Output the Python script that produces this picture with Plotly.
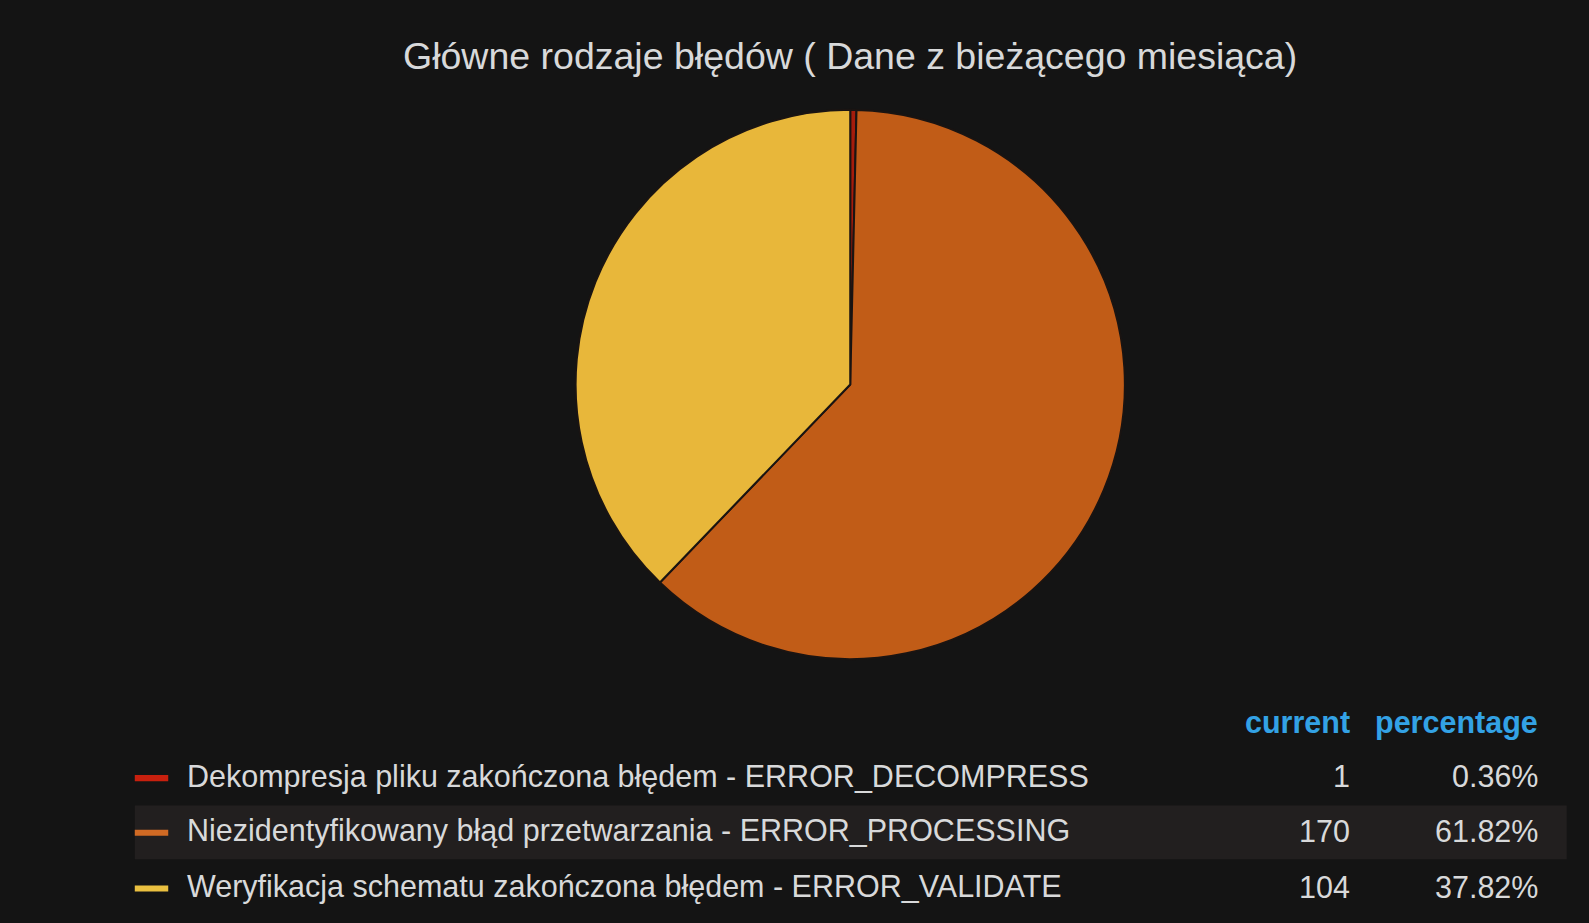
import plotly.graph_objects as go

title = "Główne rodzaje błędów ( Dane z bieżącego miesiąca)"
labels = [
    "Dekompresja pliku zakończona błędem - ERROR_DECOMPRESS",
    "Niezidentyfikowany błąd przetwarzania - ERROR_PROCESSING",
    "Weryfikacja schematu zakończona błędem - ERROR_VALIDATE",
]
values = [1, 170, 104]
colors = ["#A51C0C", "#C15C17", "#E8B73A"]
legend_colors = ["#C8200E", "#D06A24", "#EAC040"]
col_headers = ["current", "percentage"]

W, H = 1589, 923
VW, VH = 1568, 911  # layout reference frame
BG = "#141414"

def px(x):
    return x / VW

def py(y):
    return 1 - y / VH

fig = go.Figure()
fig.add_trace(go.Pie(
    labels=labels, values=values, sort=False, direction="clockwise", rotation=0,
    marker=dict(colors=colors, line=dict(color="#1a1412", width=2)),
    textinfo="none", hoverinfo="label+value+percent", showlegend=False,
    domain=dict(x=[px(568), px(1110)], y=[py(652), py(107)]),
))

total = sum(values)
font = "Liberation Sans, Arial, sans-serif"
txt = "#d8d9da"
ann = []
shapes = []
ann.append(dict(text=title, x=px(839), y=py(55), xref="paper", yref="paper",
                showarrow=False, xanchor="center", yanchor="middle",
                font=dict(family=font, size=37.5, color=txt)))
# headers
hx = [1334, 1520]
for h, x in zip(col_headers, hx):
    ann.append(dict(text=f"<b>{h}</b>", x=px(x), y=py(713), xref="paper", yref="paper",
                    showarrow=False, xanchor="right", yanchor="middle",
                    font=dict(family=font, size=30.5, color="#33A2E5")))
row_y = [766, 820, 875]
# highlight row 2
shapes.append(dict(type="rect", xref="paper", yref="paper",
                   x0=px(133), x1=px(1546), y0=py(795), y1=py(848),
                   fillcolor="#221f1f", line=dict(width=0), layer="below"))
for i, (lab, v) in enumerate(zip(labels, values)):
    y = row_y[i]
    shapes.append(dict(type="rect", xref="paper", yref="paper",
                       x0=px(133), x1=px(166), y0=py(y + 5), y1=py(y - 1),
                       fillcolor=legend_colors[i], line=dict(width=0)))
    ann.append(dict(text=lab, x=px(183), y=py(y), xref="paper", yref="paper",
                    showarrow=False, xanchor="left", yanchor="middle",
                    font=dict(family=font, size=30.5, color=txt)))
    ann.append(dict(text=str(v), x=px(hx[0]), y=py(y), xref="paper", yref="paper",
                    showarrow=False, xanchor="right", yanchor="middle",
                    font=dict(family=font, size=30.5, color=txt)))
    ann.append(dict(text=f"{v / total * 100:.2f}%", x=px(hx[1]), y=py(y), xref="paper", yref="paper",
                    showarrow=False, xanchor="right", yanchor="middle",
                    font=dict(family=font, size=30.5, color=txt)))

fig.update_layout(
    width=W, height=H, margin=dict(l=0, r=0, t=0, b=0),
    paper_bgcolor=BG, plot_bgcolor=BG,
    annotations=ann, shapes=shapes,
)
fig.write_html("out.html", config={"displayModeBar": False},
               post_script="document.body.style.margin='0';document.body.style.overflow='hidden';document.body.style.background='#141414';")
